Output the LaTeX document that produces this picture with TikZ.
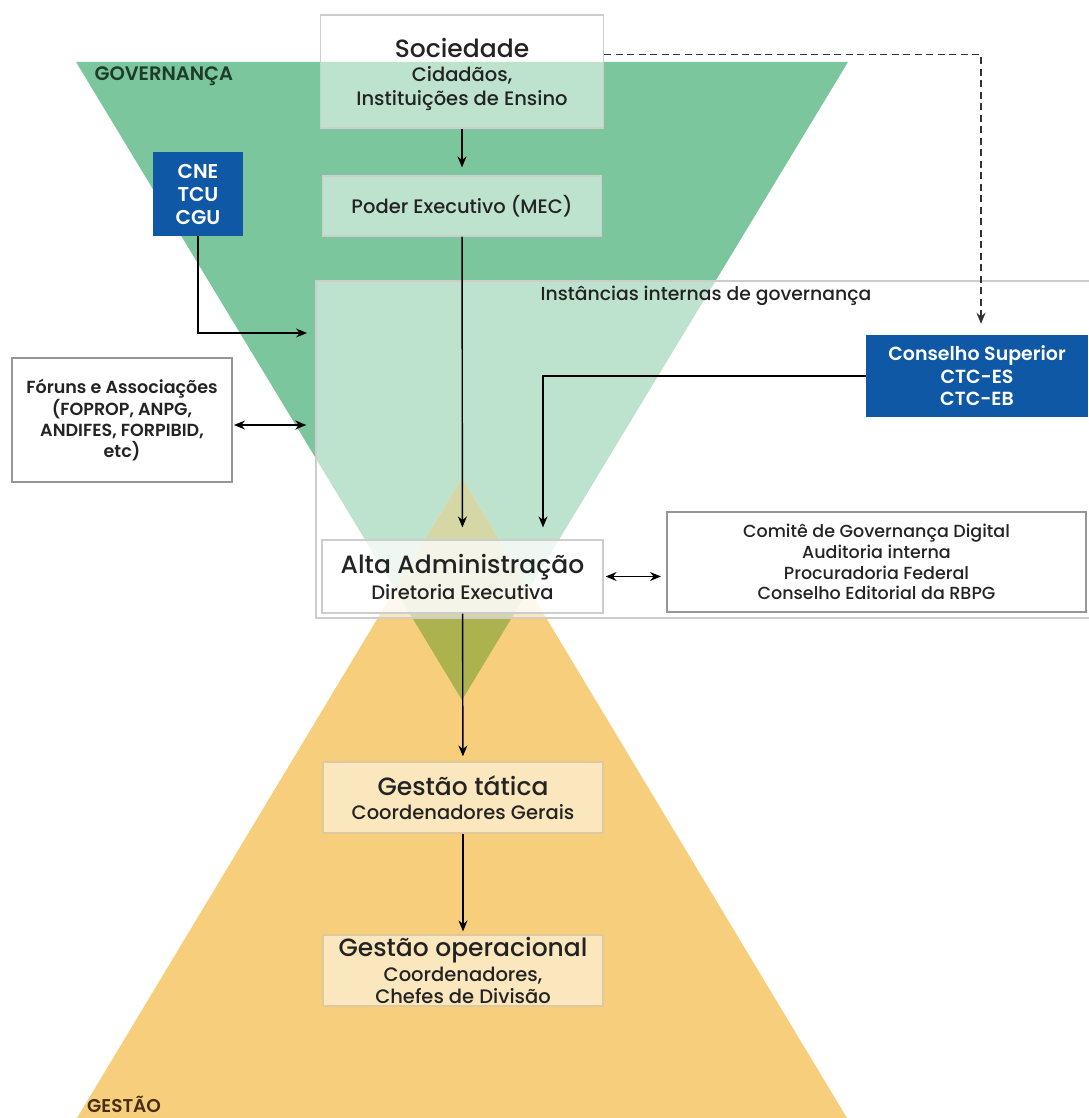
\documentclass[tikz,border=0pt]{standalone}
\usepackage{fontspec}
\setmainfont{Poppins}[UprightFont=* Medium, BoldFont=* SemiBold]
\usetikzlibrary{arrows.meta}

\definecolor{govgreen}{RGB}{124,198,158}
\definecolor{gestyellow}{RGB}{247,207,124}
\definecolor{olivemix}{RGB}{172,178,78}
\definecolor{boxblue}{RGB}{14,88,165}
\definecolor{boxgrey}{RGB}{205,205,205}
\definecolor{framegrey}{RGB}{150,150,150}
\definecolor{tangrey}{RGB}{222,200,160}
\definecolor{txt}{RGB}{35,35,35}
\definecolor{govtxt}{RGB}{30,60,42}
\definecolor{gesttxt}{RGB}{72,46,22}

\newcommand{\titletxt}{\fontsize{25}{28}\selectfont}
\newcommand{\subtxt}{\fontsize{19.5}{24}\selectfont}
\newcommand{\smalltxt}{\fontsize{17.5}{20.7}\selectfont}

\tikzset{
  pane/.style={draw=boxgrey, line width=1.2pt, fill=white, fill opacity=0.5, text opacity=1, align=center, inner sep=0pt, text=txt, font=\subtxt},
  creampane/.style={pane, draw=tangrey},
  bluebox/.style={fill=boxblue, text=white, align=center, inner sep=0pt},
  framebox/.style={draw=framegrey, line width=2pt, fill=white, align=center, inner sep=0pt, text=txt},
  flow/.style={line width=1.4pt, ->},
  twoway/.style={line width=1.4pt, <->},
}

\begin{document}
\begin{tikzpicture}[x=1pt, y=-1pt, >={Stealth[length=11pt, width=9pt]}]
  \useasboundingbox (0,0) rectangle (1088,1118);

  % governanca and gestao triangles
  \fill[govgreen] (76,62) -- (848,62) -- (462,700) -- cycle;
  \fill[gestyellow] (462,478) -- (77,1118) -- (847,1118) -- cycle;
  \fill[olivemix] (462,478)
    -- (intersection of 76,62--462,700 and 462,478--77,1118)
    -- (462,700)
    -- (intersection of 848,62--462,700 and 462,478--847,1118) -- cycle;

  \node (gov) [anchor=west, text=govtxt, font=\bfseries\fontsize{19.5}{22}\selectfont] at (91,76) {GOVERNANÇA};
  \node (gest) [anchor=west, inner sep=0pt, text=gesttxt, font=\bfseries\fontsize{18.5}{20}\selectfont] at (87,1104) {GESTÃO};

  % instancias internas
  \node (inst) [pane, draw=boxgrey, line width=1.5pt, minimum width=776, minimum height=337] at (704,449.5) {};
  \node (insttxt) [text=txt, font=\fontsize{18.8}{22}\selectfont] at (706,296) {Instâncias internas de governança};

  \node (soc) [pane, minimum width=283, minimum height=113] at (462,71.5)
    {{\titletxt\rule{0pt}{26pt}Sociedade}\\Cidadãos,\\Instituições de Ensino};
  \node (mec) [pane, minimum width=279, minimum height=60] at (462,206) {Poder Executivo (MEC)};
  \node (cne) [bluebox, minimum width=90, minimum height=84, font=\bfseries\fontsize{20}{23}\selectfont] at (198,194) {CNE\\TCU\\CGU};
  \node (cons) [bluebox, minimum width=222, minimum height=82, font=\bfseries\fontsize{19}{22.5}\selectfont] at (977,376) {Conselho Superior\\CTC-ES\\CTC-EB};
  \node (forum) [framebox, minimum width=220, minimum height=124, font=\bfseries\smalltxt] at (122,420)
    {Fóruns e Associações\\(FOPROP, ANPG,\\ANDIFES, FORPIBID,\\etc)};
  \node (alta) [pane, fill opacity=0.75, minimum width=281, minimum height=73] at (462.5,576.5)
    {{\titletxt Alta Administração}\\[2pt]Diretoria Executiva};
  \node (comite) [framebox, minimum width=419, minimum height=100, font=\smalltxt] at (876.5,562)
    {Comitê de Governança Digital\\Auditoria interna\\Procuradoria Federal\\Conselho Editorial da RBPG};
  \node (tatica) [creampane, minimum width=280, minimum height=71] at (463,797.5)
    {{\titletxt Gestão tática}\\Coordenadores Gerais};
  \node (oper) [creampane, minimum width=280, minimum height=71] at (463,970.5)
    {{\titletxt Gestão operacional}\\[1pt]Coordenadores,\\[-2pt]Chefes de Divisão};

  \coordinate (cnein) at (316,333);
  \coordinate (consin) at (543,0);

  \draw[flow, shorten >=8pt] (soc) -- (mec);
  \draw[flow, shorten >=12pt] (mec) -- (alta);
  \draw[flow, shorten >=9pt] (cne.south) |- (cnein);
  \draw[twoway, shorten <=1pt, shorten >=9pt] ([yshift=-5pt]forum.east) -- ([yshift=-5pt]forum.east -| inst.west);
  \draw[flow, shorten >=12pt] (cons.west) -| (consin |- alta.north);
  \draw[twoway, shorten <=2pt, shorten >=5pt] (alta.east) -- (alta.east -| comite.west);
  \draw[flow, shorten >=5pt] (alta) -- (tatica);
  \draw[flow, shorten >=3pt] (tatica) -- (oper);
  \draw[->, line width=1.8pt, dashed, dash pattern=on 7pt off 4.5pt, black!80, shorten >=11pt]
    ([yshift=17pt]soc.east) -| ([xshift=4pt]cons.north);
\end{tikzpicture}
\end{document}
